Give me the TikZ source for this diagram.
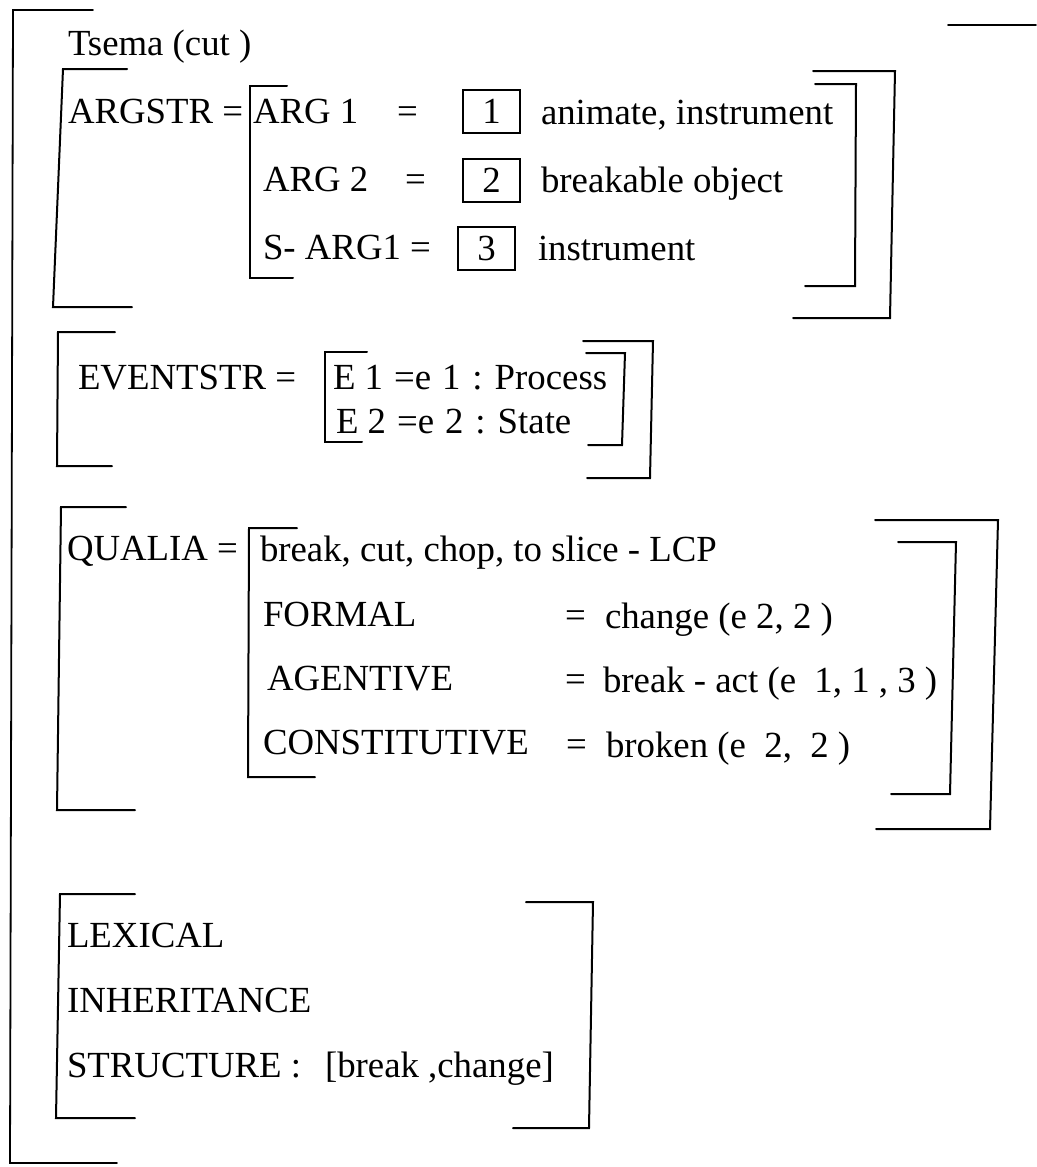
\documentclass[tikz,border=0pt]{standalone}
\usepackage{fontspec}
\setmainfont{Liberation Serif}
\begin{document}
\begin{tikzpicture}
  [x=1pt,y=-1pt,
   txt/.style={anchor=base west,inner sep=0,outer sep=0,
               font=\fontsize{36.8}{44}\selectfont},
   numbox/.style={draw,line width=1.3pt,anchor=center,inner sep=0,
                  minimum width=57pt,minimum height=43pt,
                  font=\fontsize{36.8}{44}\selectfont},
   brak/.style={line width=2pt,line cap=round,line join=miter},
   every node/.style={}]
  \useasboundingbox (0,0) rectangle (1036,1167);
  % outer bracket
  \draw[brak,line width=1.8pt] (93,10) -- (13,10) -- (10,1163) -- (117,1163);
  \draw[brak,line width=1.8pt] (948,25) -- (1036,25);
  \node[txt] (tsema) at (68,55) {Tsema (cut )};
  % argument structure
  \node[txt] (argstr) at (68,123) {ARGSTR =};
  \node[txt] (arga) at (253,123) {ARG 1};
  \node[txt] (argaeq) at (397,123) {=};
  \node[numbox] (boxa) at (491.5,111.5) {1};
  \node[txt] (argaval) at (541,124) {animate, instrument};
  \node[txt] (argb) at (263,191) {ARG 2};
  \node[txt] (argbeq) at (405,191) {=};
  \node[numbox] (boxb) at (491.5,180.5) {2};
  \node[txt] (argbval) at (541,192) {breakable object};
  \node[txt] (sarg) at (263,259) {S- ARG1 =};
  \node[numbox] (boxc) at (486.5,248.5) {3};
  \node[txt] (sargval) at (538,260) {instrument};
  \draw[brak] (127,69) -- (63,69) -- (53,307) -- (132,307);
  \draw[brak] (287,86) -- (250,86) -- (250,278) -- (293,278);
  \draw[brak] (815,84) -- (856,84) -- (855,286) -- (805,286);
  \draw[brak] (813,71) -- (895,71) -- (890,318) -- (793,318);
  % event structure
  \node[txt] (eventstr) at (78,389) {EVENTSTR =};
  \node[txt] (ea) at (333,389) {E 1};
  \node[txt] (eaval) at (394,389) {=e\hspace{11pt}1\hspace{12pt}:\hspace{12pt}Process};
  \node[txt] (eb) at (336,433) {E 2};
  \node[txt] (ebval) at (397,433) {=e\hspace{11pt}2\hspace{12pt}:\hspace{12pt}State};
  \draw[brak] (115,332) -- (58,332) -- (57,466) -- (112,466);
  \draw[brak] (367,352) -- (325,352) -- (325,442) -- (362,442);
  \draw[brak] (586,353) -- (625,353) -- (622,445) -- (588,445);
  \draw[brak] (583,341) -- (653,341) -- (650,478) -- (587,478);
  % qualia structure
  \node[txt] (qualia) at (67,560) {QUALIA =};
  \node[txt] (lcp) at (260,561) {break, cut, chop, to slice - LCP};
  \node[txt] (formal) at (263,626) {FORMAL};
  \node[txt] (formaleq) at (565,627) {=};
  \node[txt] (formalval) at (605,628) {change (e 2, 2 )};
  \node[txt] (agentive) at (267,690) {AGENTIVE};
  \node[txt] (agentiveeq) at (565,691) {=};
  \node[txt] (agentiveval) at (603,692) {break - act (e\ \ 1, 1 , 3 )};
  \node[txt] (constit) at (263,754) {CONSTITUTIVE};
  \node[txt] (constiteq) at (566,756) {=};
  \node[txt] (constitval) at (606,757) {broken (e\ \ 2,\ \ 2 )};
  \draw[brak] (126,507) -- (61,507) -- (57,810) -- (135,810);
  \draw[brak] (297,528) -- (249,528) -- (248,777) -- (315,777);
  \draw[brak] (898,542) -- (956,542) -- (950,794) -- (891,794);
  \draw[brak] (875,520) -- (998,520) -- (990,829) -- (876,829);
  % lexical inheritance structure
  \node[txt] (lexical) at (67,947) {LEXICAL};
  \node[txt] (inherit) at (67,1012) {INHERITANCE};
  \node[txt] (struct) at (67,1077) {STRUCTURE :};
  \node[txt] (structval) at (325,1077) {[break ,change]};
  \draw[brak] (135,894) -- (60,894) -- (56,1118) -- (135,1118);
  \draw[brak] (526,902) -- (593,902) -- (589,1128) -- (513,1128);
\end{tikzpicture}
\end{document}
